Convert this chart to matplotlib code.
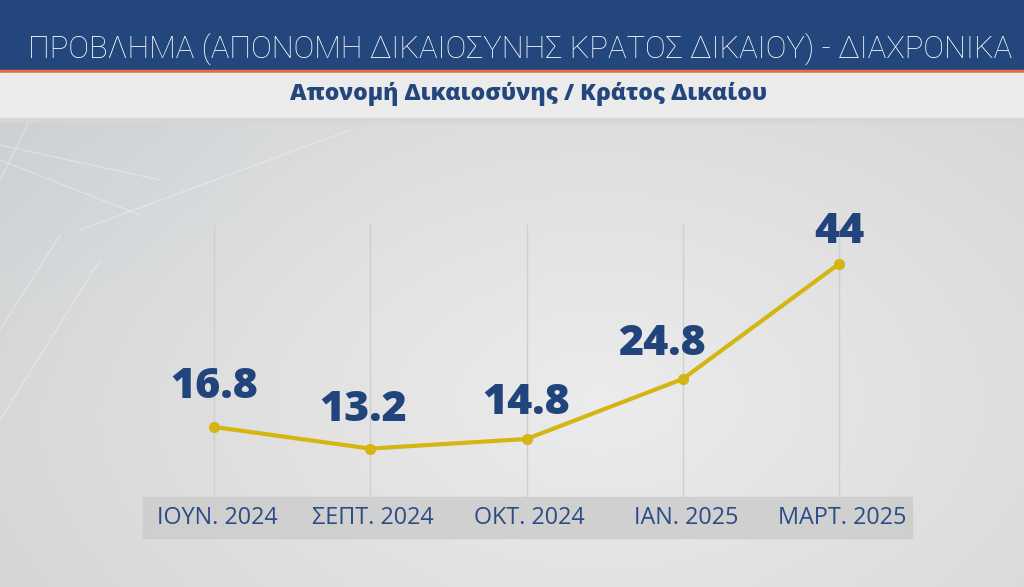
import numpy as np
import matplotlib
matplotlib.use("Agg")
import matplotlib.pyplot as plt
from matplotlib import font_manager as fm
from matplotlib.patches import Rectangle

categories = ["ΙΟΥΝ. 2024", "ΣΕΠΤ. 2024", "ΟΚΤ. 2024", "ΙΑΝ. 2025", "ΜΑΡΤ. 2025"]
values = [16.8, 13.2, 14.8, 24.8, 44]
value_labels = ["16.8", "13.2", "14.8", "24.8", "44"]
title = "ΠΡΟΒΛΗΜΑ (ΑΠΟΝΟΜΗ ΔΙΚΑΙΟΣΥΝΗΣ ΚΡΑΤΟΣ ΔΙΚΑΙΟΥ) - ΔΙΑΧΡΟΝΙΚΑ"
subtitle = "Απονομή Δικαιοσύνης / Κράτος Δικαίου"

avail = {f.name for f in fm.fontManager.ttflist}
def pick(*names):
    for n in names:
        if n in avail:
            return n
    return "DejaVu Sans"
wide = pick("Open Sans", "Noto Sans", "Roboto")
thin = pick("Roboto", "Lato", "Open Sans")

W, H = 1024, 587
fig = plt.figure(figsize=(W / 100, H / 100), dpi=100)

# background gradient
bg = fig.add_axes([0, 0, 1, 1])
yy, xx = np.mgrid[0:H, 0:W]
r = np.sqrt(((xx - 600) / 650.0) ** 2 + ((yy - 400) / 420.0) ** 2)
val = 0.925 - 0.085 * np.clip(r, 0, 1.3)
tint = np.clip(1 - np.sqrt((xx / 450.0) ** 2 + ((yy - 120) / 300.0) ** 2), 0, 1)
img = np.dstack([val - 0.03 * tint, val - 0.01 * tint, val + 0.005 * tint])
bg.imshow(np.clip(img, 0, 1), extent=[0, W, H, 0], aspect="auto")
# faint decorative lines top-left
for (x0, y0, x1, y1) in [(0, 145, 160, 180), (30, 120, 0, 180), (80, 230, 350, 130),
                         (0, 160, 140, 215), (60, 235, 0, 330), (0, 420, 100, 260)]:
    bg.plot([x0, x1], [y0, y1], color="white", alpha=0.3, lw=1)
bg.set_xlim(0, W)
bg.set_ylim(H, 0)
bg.axis("off")
# header band
bg.add_patch(Rectangle((0, 0), W, 70, color="#23467d", zorder=3))
bg.add_patch(Rectangle((0, 70), W, 3, color="#e2703a", zorder=3))
bg.add_patch(Rectangle((0, 73), W, 47, color="#ebebeb", zorder=3))
bg.add_patch(Rectangle((0, 118), W, 4, color="#d6d6d6", zorder=3))
bg.text(28, 58, title, color="white", fontsize=22.3, family=thin, weight="light",
        va="baseline", ha="left", zorder=4)
bg.text(529, 100, subtitle, color="#23467d", fontsize=16.5, family=wide, weight=800,
        va="baseline", ha="center", zorder=4)

# data axes
ax = fig.add_axes([0, 0, 1, 1])
ax.patch.set_alpha(0)
x = np.arange(len(values))
ax.set_xlim(-214 / 156.25, (W - 214) / 156.25)
ax.set_ylim(-9.87, 87.97)
ax.axis("off")

for xi in x:
    ax.plot([xi, xi], [5.1, 50.5], color="#cfcfcf", lw=1, zorder=1)

ax.add_patch(Rectangle((-0.4544, -1.7), 4.9216, 6.83, color="#cdcdcd", alpha=0.85, zorder=1))

ax.plot(x, values, color="#d4b512", lw=3, marker="o", ms=7, zorder=3, solid_capstyle="round")

offsets = [(0, 40), (-7, 39), (0, 36), (-21, 35), (0, 32)]
for xi, v, lab, (dx, dy) in zip(x, values, value_labels, offsets):
    ax.annotate(lab, (xi, v), xytext=(dx, dy), textcoords="offset pixels",
                ha="center", va="center", fontsize=31, weight=800,
                color="#22447c", family=wide, zorder=4)

for xi, c in zip(x, categories):
    ax.text(xi + 0.02, 1.7, c, ha="center", va="center", fontsize=16.8,
            color="#2a4d86", family=wide, zorder=4)

fig.savefig("out.png", dpi=100)
